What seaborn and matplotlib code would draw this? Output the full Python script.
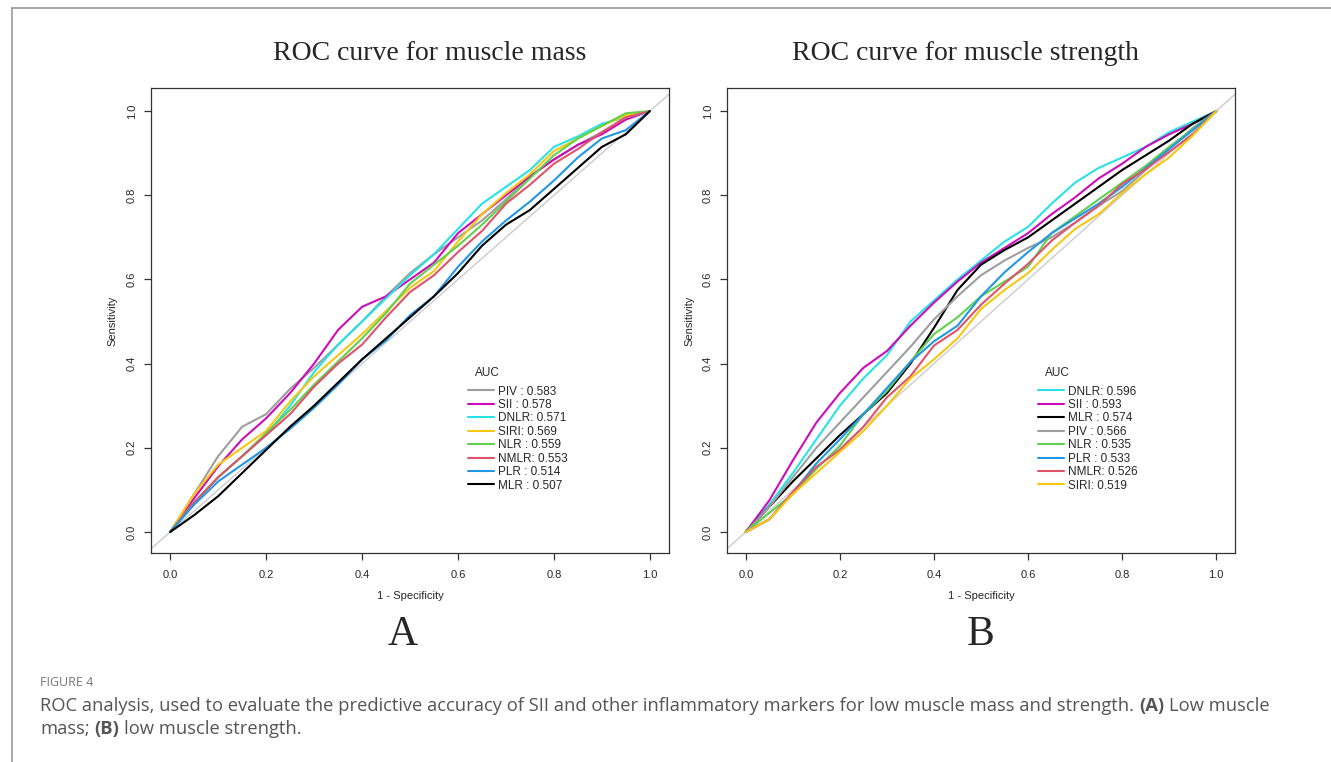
import numpy as np
import pandas as pd
import seaborn as sns
import matplotlib
matplotlib.use('Agg')
import matplotlib.pyplot as plt
from matplotlib.lines import Line2D

# common false positive rate grid (1 - specificity)
fpr = [0, 0.05, 0.1, 0.15, 0.2, 0.25, 0.3, 0.35, 0.4, 0.45, 0.5,
       0.55, 0.6, 0.65, 0.7, 0.75, 0.8, 0.85, 0.9, 0.95, 1.0]

# panel A: muscle mass
names_a = ["PIV", "SII", "DNLR", "SIRI", "NLR", "NMLR", "PLR", "MLR"]
auc_a = [0.583, 0.578, 0.571, 0.569, 0.559, 0.553, 0.514, 0.507]
a_piv = [0, .09, .18, .25, .28, .34, .39, .445, .50, .56, .615, .66, .70, .74, .79, .845, .885, .92, .95, .985, 1]
a_sii = [0, .08, .156, .22, .27, .33, .40, .48, .535, .56, .60, .64, .71, .755, .80, .845, .885, .92, .945, .98, 1]
a_dnlr = [0, .07, .13, .18, .23, .30, .38, .445, .50, .555, .61, .66, .72, .78, .82, .86, .915, .94, .97, .985, 1]
a_siri = [0, .09, .16, .20, .24, .31, .37, .42, .47, .525, .58, .62, .69, .755, .805, .85, .905, .935, .965, .99, 1]
a_nlr = [0, .07, .13, .18, .235, .29, .35, .405, .46, .52, .59, .635, .68, .73, .785, .84, .895, .935, .965, .995, 1]
a_nmlr = [0, .07, .13, .18, .23, .28, .345, .40, .445, .51, .57, .61, .665, .715, .78, .825, .875, .91, .95, .985, 1]
a_plr = [0, .065, .12, .16, .20, .245, .295, .35, .41, .455, .515, .56, .63, .69, .74, .785, .835, .89, .935, .955, 1]
a_mlr = [0, .04, .085, .14, .195, .25, .30, .355, .41, .46, .51, .56, .615, .68, .73, .765, .815, .865, .915, .945, 1]

# panel B: muscle strength
names_b = ["DNLR", "SII", "MLR", "PIV", "NLR", "PLR", "NMLR", "SIRI"]
auc_b = [0.596, 0.593, 0.574, 0.566, 0.535, 0.533, 0.526, 0.519]
b_dnlr = [0, .065, .14, .22, .30, .365, .42, .50, .55, .60, .645, .69, .725, .78, .83, .865, .89, .915, .95, .975, 1]
b_sii = [0, .075, .17, .26, .33, .39, .43, .49, .545, .595, .64, .675, .71, .755, .795, .84, .875, .915, .945, .97, 1]
b_mlr = [0, .06, .12, .175, .23, .28, .33, .40, .485, .575, .635, .67, .70, .74, .78, .82, .86, .895, .93, .97, 1]
b_piv = [0, .06, .13, .20, .26, .32, .38, .44, .505, .56, .61, .645, .675, .70, .735, .775, .81, .86, .91, .96, 1]
b_nlr = [0, .045, .09, .15, .205, .28, .335, .405, .47, .51, .56, .595, .63, .71, .75, .79, .83, .87, .915, .957, 1]
b_plr = [0, .03, .093, .163, .22, .28, .342, .404, .453, .49, .56, .617, .665, .71, .745, .78, .82, .865, .91, .955, 1]
b_nmlr = [0, .03, .095, .155, .195, .25, .32, .37, .443, .48, .54, .59, .637, .692, .735, .775, .827, .862, .903, .945, 1]
b_siri = [0, .03, .09, .14, .19, .24, .30, .365, .41, .46, .53, .575, .615, .67, .72, .755, .805, .85, .89, .942, 1]

tpr_a = {"PIV": a_piv, "SII": a_sii, "DNLR": a_dnlr, "SIRI": a_siri,
         "NLR": a_nlr, "NMLR": a_nmlr, "PLR": a_plr, "MLR": a_mlr}
tpr_b = {"DNLR": b_dnlr, "SII": b_sii, "MLR": b_mlr, "PIV": b_piv,
         "NLR": b_nlr, "PLR": b_plr, "NMLR": b_nmlr, "SIRI": b_siri}

colors = {"PIV": "#9E9E9E", "SII": "#CD0BBC", "DNLR": "#28E2E5", "SIRI": "#F5C710",
          "NLR": "#61D04F", "NMLR": "#DF536B", "PLR": "#2297E6", "MLR": "black"}

sns.set_theme(style="ticks")
plt.rcParams['font.family'] = ['Liberation Sans', 'DejaVu Sans']

fig = plt.figure(figsize=(13.31, 7.62), dpi=100)
W, H = 1331, 762


def lab(name, auc):
    return f"{name}{' ' if len(name) < 4 else ''}: {auc:.3f}"


def roc_panel(rect, names, aucs, tprs):
    ax = fig.add_axes(rect)
    rows = []
    for n, a in zip(names, aucs):
        for x, y in zip(fpr, tprs[n]):
            rows.append({"fpr": x, "tpr": y, "marker": lab(n, a)})
    df = pd.DataFrame(rows)
    order = [lab(n, a) for n, a in zip(names, aucs)]
    pal = {lab(n, a): colors[n] for n, a in zip(names, aucs)}
    ax.axline((0, 0), (1, 1), color="#cccccc", lw=1, zorder=1)
    sns.lineplot(data=df, x="fpr", y="tpr", hue="marker", hue_order=order,
                 palette=pal, estimator=None, sort=False, lw=1.5, ax=ax)
    ax.set_xlim(-0.04, 1.04)
    ax.set_ylim(-0.05, 1.055)
    ticks = [0, 0.2, 0.4, 0.6, 0.8, 1.0]
    ax.set_xticks(ticks)
    ax.set_yticks(ticks)
    ax.set_xticklabels([f"{t:.1f}" for t in ticks], fontsize=8)
    ax.set_yticklabels([f"{t:.1f}" for t in ticks], fontsize=8, rotation=90, va="center")
    ax.tick_params(direction="out", length=5, width=0.9, color="#333333", pad=7)
    ax.tick_params(axis="y", pad=5)
    for s in ax.spines.values():
        s.set_color("#333333")
        s.set_linewidth(0.9)
    ax.set_xlabel("1 - Specificity", fontsize=8)
    ax.set_ylabel("Sensitivity", fontsize=8)
    ax.xaxis.set_label_coords(0.5, -0.082)
    ax.yaxis.set_label_coords(-0.064, 0.5)
    # legend title placed separately (R puts a wider gap under it)
    ax.text(0.625, 0.387, "AUC", transform=ax.transAxes, fontsize=8.5, va="center")
    ax.legend(frameon=False, fontsize=8.5, loc="upper left",
              bbox_to_anchor=(0.612, 0.36), borderpad=0, borderaxespad=0,
              labelspacing=0.12, handlelength=2.2, handletextpad=0.35)
    return ax


roc_panel([151 / W, 1 - 553 / H, 518 / W, 465 / H], names_a, auc_a, tpr_a)
roc_panel([727 / W, 1 - 553 / H, 508 / W, 465 / H], names_b, auc_b, tpr_b)

serif = ['Liberation Serif', 'DejaVu Serif']
fig.text(430 / W, 1 - 54 / H, "ROC curve for muscle mass", family=serif, fontsize=20,
         ha="center", va="center")
fig.text(965 / W, 1 - 54 / H, "ROC curve for muscle strength", family=serif, fontsize=20,
         ha="center", va="center")
fig.text(403 / W, 1 - 635 / H, "A", family=serif, fontsize=30, ha="center", va="center")
fig.text(981 / W, 1 - 635 / H, "B", family=serif, fontsize=30, ha="center", va="center")

# page frame lines
fig.add_artist(Line2D([12 / W, 12 / W], [0, 1 - 8 / H], transform=fig.transFigure,
                      color="#9a9a9a", lw=1.2))
fig.add_artist(Line2D([12 / W, 1], [1 - 8 / H, 1 - 8 / H], transform=fig.transFigure,
                      color="#9a9a9a", lw=1.2))

# caption
cap = ['Open Sans', 'DejaVu Sans']
fig.text(40 / W, 1 - 683 / H, "FIGURE 4", family=cap, fontsize=9, color="#777777",
         va="center")

r = fig.canvas.get_renderer()
cap_size = 13.2


def width_px(s, weight):
    t = fig.text(0, 0, s, family=cap, fontsize=cap_size, fontweight=weight)
    w = t.get_window_extent(r).width
    t.remove()
    return w


space = width_px("x x", "normal") - width_px("xx", "normal")


def rich_line(x_px, y_px, parts):
    for s, w in parts:
        t = fig.text(x_px / W, 1 - y_px / H, s, family=cap, fontsize=cap_size,
                     fontweight=w, color="#555555", va="center")
        x_px = t.get_window_extent(r).x1 + space


rich_line(40, 706, [("ROC analysis, used to evaluate the predictive accuracy of SII and other "
                     "inflammatory markers for low muscle mass and strength.", "normal"),
                    ("(A)", "bold"), ("Low muscle", "normal")])
rich_line(40, 729, [("mass;", "normal"), ("(B)", "bold"), ("low muscle strength.", "normal")])

fig.savefig("out.png", dpi=100)
